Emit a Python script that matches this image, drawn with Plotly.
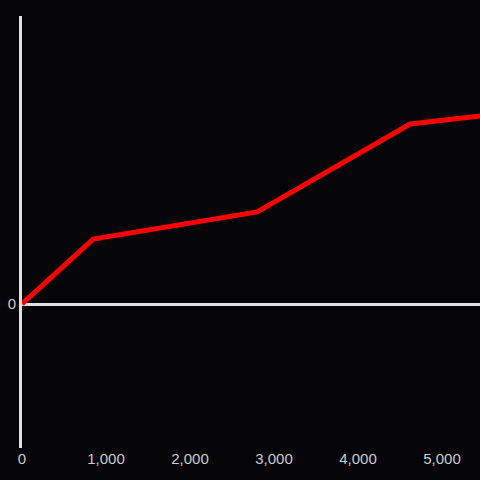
import plotly.graph_objects as go

x_vals = [0, 847, 2800, 4620, 5452]
y_vals = [0, 45.1, 63.9, 125, 130.6]
x_ticks = [0, 1000, 2000, 3000, 4000, 5000]
x_tick_labels = ["0", "1,000", "2,000", "3,000", "4,000", "5,000"]

bg = "#050407"
axis_col = "#e0e0e0"

fig = go.Figure()
fig.add_trace(go.Scatter(x=x_vals, y=y_vals, mode="lines",
                         line=dict(color="#ff0000", width=5), hoverinfo="skip"))

fig.update_layout(
    width=480, height=480,
    paper_bgcolor=bg, plot_bgcolor=bg,
    margin=dict(l=22, r=0, t=16, b=32),
    showlegend=False,
    font=dict(family="Liberation Sans, Arial, sans-serif", size=15, color="#cccccc"),
    xaxis=dict(range=[0, 5452], tickvals=x_ticks, ticktext=x_tick_labels,
               showgrid=False, zeroline=False, showline=False, ticks="",
               ticklen=0, tickfont=dict(size=15, color="#cccccc")),
    yaxis=dict(range=[-100, 200], tickvals=[0], ticktext=["0"],
               showgrid=False, zeroline=True, zerolinecolor=axis_col, zerolinewidth=3,
               showline=True, linecolor=axis_col, linewidth=3, ticks="",
               tickfont=dict(size=15, color="#cccccc")),
)

fig.write_html("out.html", config={"displayModeBar": False},
               post_script="document.body.style.margin='0';")
